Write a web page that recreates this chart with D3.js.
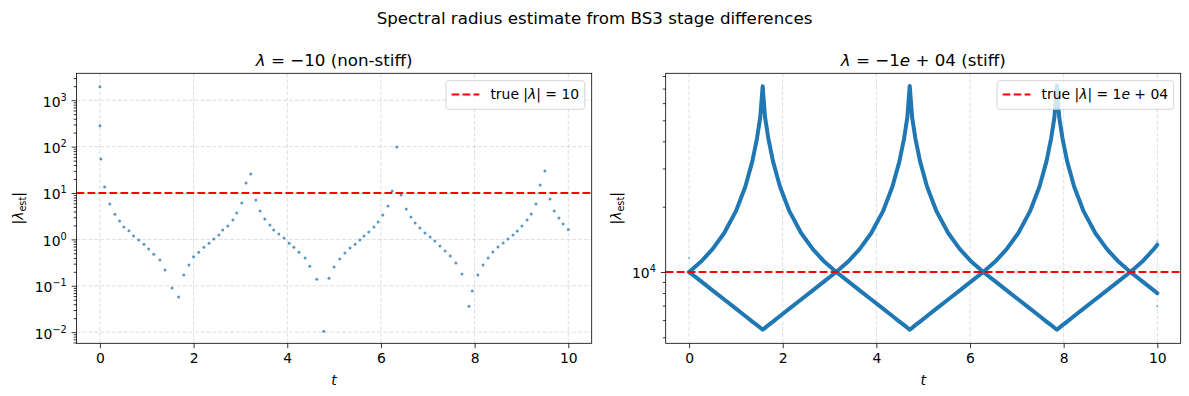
<!DOCTYPE html>
<html>
<head>
<meta charset="utf-8">
<script src="https://cdn.jsdelivr.net/npm/d3@7"></script>
<style>
  body { margin: 0; background: #fff; }
  svg { font-family: "DejaVu Sans", sans-serif; }
</style>
</head>
<body>
<svg id="drawing_region"></svg>
<script>
// lambda = -10 (non-stiff): step times and estimated |lambda|
const nsT = [0, 0, 0.02, 0.10, 0.21, 0.32, 0.42, 0.51, 0.62, 0.72,
  0.83, 0.94, 1.04, 1.15, 1.28, 1.39, 1.54, 1.68, 1.79, 1.90,
  2.00, 2.11, 2.22, 2.33, 2.43, 2.54, 2.62, 2.73, 2.84, 2.92,
  3.03, 3.12, 3.22, 3.33, 3.42, 3.52, 3.63, 3.71, 3.82, 3.93,
  4.04, 4.14, 4.25, 4.38, 4.48, 4.63, 4.78, 4.89, 5.00, 5.12,
  5.23, 5.34, 5.45, 5.55, 5.64, 5.74, 5.85, 5.94, 6.04, 6.15,
  6.24, 6.34, 6.43, 6.54, 6.64, 6.73, 6.83, 6.94, 7.05, 7.15,
  7.26, 7.37, 7.48, 7.60, 7.73, 7.88, 7.95, 8.07, 8.18, 8.29,
  8.39, 8.50, 8.61, 8.71, 8.82, 8.91, 9.01, 9.12, 9.21, 9.31,
  9.40, 9.50, 9.61, 9.70, 9.80, 9.89, 10.00];
const nsEst = [1950, 280, 54, 13.5, 5.8, 3.5, 2.5, 1.85, 1.54, 1.18,
  0.97, 0.79, 0.62, 0.48, 0.36, 0.22, 0.089, 0.057, 0.17, 0.28,
  0.42, 0.53, 0.68, 0.83, 1.02, 1.24, 1.59, 1.94, 2.61, 3.70,
  6.1, 16.4, 25.7, 7.1, 4.1, 2.75, 2.04, 1.59, 1.30, 1.07,
  0.83, 0.68, 0.53, 0.395, 0.265, 0.139, 0.0105, 0.146, 0.253, 0.377,
  0.507, 0.65, 0.79, 0.97, 1.18, 1.44, 1.85, 2.37, 3.35, 5.24,
  11.0, 98, 9.05, 4.52, 3.03, 2.25, 1.76, 1.37, 1.12, 0.92,
  0.72, 0.56, 0.436, 0.308, 0.179, 0.0364, 0.0767, 0.170, 0.279, 0.395,
  0.533, 0.684, 0.834, 1.02, 1.24, 1.51, 1.94, 2.61, 3.52, 5.80,
  14.9, 29.9, 7.43, 4.09, 2.88, 2.14, 1.64];

// lambda = -1e4 (stiff): the dense cloud of estimates, read as two branches
const stT = [0, 0.25, 0.5, 0.75, 1.0, 1.2, 1.35, 1.45, 1.52, 1.571,
  1.622, 1.692, 1.792, 1.942, 2.142, 2.392, 2.642, 2.892, 3.142,
  3.392, 3.642, 3.892, 4.142, 4.342, 4.492, 4.592, 4.662, 4.712,
  4.763, 4.833, 4.933, 5.083, 5.283, 5.533, 5.783, 6.033, 6.283,
  6.533, 6.783, 7.033, 7.283, 7.483, 7.633, 7.733, 7.803, 7.854,
  7.905, 7.975, 8.075, 8.225, 8.425, 8.675, 8.925, 9.175, 9.425,
  9.675, 9.925, 10.0];
const stBranchA = [10000, 11140, 12740, 15130, 19070, 24710, 32350, 41320, 51710, 71800,
  51710, 41320, 32350, 24710, 19070, 15130, 12740, 11140, 10000,
  9070, 8230, 7470, 6780, 6270, 5910, 5690, 5530, 5420,
  5530, 5690, 5910, 6270, 6780, 7470, 8230, 9070, 10000,
  11140, 12740, 15130, 19070, 24710, 32350, 41320, 51710, 72500,
  51710, 41320, 32350, 24710, 19070, 15130, 12740, 11140, 10000,
  9070, 8230, 7990];
const stBranchB = [10000, 9070, 8230, 7470, 6780, 6270, 5910, 5690, 5530, 5420,
  5530, 5690, 5910, 6270, 6780, 7470, 8230, 9070, 10000,
  11140, 12740, 15130, 19070, 24710, 32350, 41320, 51710, 72000,
  51710, 41320, 32350, 24710, 19070, 15130, 12740, 11140, 10000,
  9070, 8230, 7470, 6780, 6270, 5910, 5690, 5530, 5420,
  5530, 5690, 5910, 6270, 6780, 7470, 8230, 9070, 10000,
  11140, 12740, 13350];
const stStrayT = [0, 0, 10, 10];
const stStrayEst = [11600, 9800, 13800, 6950];

const trueNonStiff = 10;
const trueStiff = 1e4;
const xTicks = [0, 2, 4, 6, 8, 10];

const FS = 13.9;      // 10pt at 100 dpi
const FS_BIG = 16.7;  // 12pt
const BLUE = '#1f77b4';

const svg = d3.select('#drawing_region').attr('width', 1189).attr('height', 396);

svg.append('text')
  .attr('x', 594.5).attr('y', 24)
  .attr('text-anchor', 'middle')
  .attr('font-size', FS_BIG)
  .text('Spectral radius estimate from BS3 stage differences');

function rich(sel, parts) {
  parts.forEach(p => {
    const ts = sel.append('tspan').text(p.t);
    if (p.i) ts.attr('font-style', 'italic');
    if (p.size) ts.attr('font-size', p.size);
    if (p.dy) ts.attr('dy', p.dy);
  });
  return sel;
}

function sup(k) {
  return k < 0 ? '\u2212' + (-k) : String(k);
}

class LogPanel {

  constructor(config) {
    this.config = config;
    this.init();
  }

  init() {
    let self = this;
    const c = self.config;

    self.chart = svg.append('g')
      .attr('transform', `translate(${c.left}, ${c.top})`);

    self.xscale = d3.scaleLinear().domain([-0.5, 10.5]).range([0, c.width]);
    self.yscale = d3.scaleLog().domain(c.yDomain).range([c.height, 0]);

    self.chart.append('clipPath').attr('id', c.id + '-clip')
      .append('rect').attr('width', c.width).attr('height', c.height);

    self.gridLayer = self.chart.append('g');
    self.dataLayer = self.chart.append('g').attr('clip-path', `url(#${c.id}-clip)`);
    self.axisLayer = self.chart.append('g');
  }

  render() {
    let self = this;
    const c = self.config;
    const W = c.width, H = c.height;

    // grid
    self.gridLayer.selectAll('.gx').data(xTicks).join('line')
      .attr('x1', d => self.xscale(d)).attr('x2', d => self.xscale(d))
      .attr('y1', 0).attr('y2', H);
    self.gridLayer.selectAll('.gy').data(c.majors).join('line')
      .attr('x1', 0).attr('x2', W)
      .attr('y1', d => self.yscale(d)).attr('y2', d => self.yscale(d));
    self.gridLayer.selectAll('line')
      .attr('stroke', '#b0b0b0').attr('stroke-opacity', 0.5)
      .attr('stroke-width', 0.8).attr('stroke-dasharray', '4.1,1.8');

    c.drawData(self);

    // true |lambda| reference
    self.dataLayer.append('line')
      .attr('x1', 0).attr('x2', W)
      .attr('y1', self.yscale(c.trueValue)).attr('y2', self.yscale(c.trueValue))
      .attr('stroke', 'red').attr('stroke-width', 2.08)
      .attr('stroke-dasharray', '7.7,3.3');

    // axes
    const xAxis = self.axisLayer.append('g')
      .attr('transform', `translate(0, ${H})`)
      .call(d3.axisBottom(self.xscale).tickValues(xTicks)
        .tickSize(4.9).tickPadding(4.4).tickSizeOuter(0).tickFormat(d3.format('d')));

    const yMinor = self.axisLayer.append('g')
      .call(d3.axisLeft(self.yscale).tickValues(c.minors)
        .tickSize(2.8).tickSizeOuter(0).tickFormat(''));

    const yAxis = self.axisLayer.append('g')
      .call(d3.axisLeft(self.yscale).tickValues(c.majors)
        .tickSize(4.9).tickPadding(4.9).tickSizeOuter(0).tickFormat(''));

    [xAxis, yMinor, yAxis].forEach(a => {
      a.select('.domain').remove();
      a.selectAll('line').attr('stroke', '#000').attr('stroke-width', 0.8);
      a.attr('font-family', null).attr('font-size', FS);
    });
    xAxis.selectAll('text').attr('fill', '#000').attr('dy', '0.76em');

    yAxis.selectAll('.tick text')
      .attr('fill', '#000').attr('dy', '0.42em')
      .each(function(d) {
        const k = Math.round(Math.log10(d));
        rich(d3.select(this), [
          { t: '10' },
          { t: sup(k), size: FS * 0.7, dy: -FS * 0.42 }
        ]);
      });

    // spines
    self.axisLayer.append('rect')
      .attr('width', W).attr('height', H)
      .attr('fill', 'none').attr('stroke', '#000').attr('stroke-width', 0.8);

    // titles and labels
    rich(self.chart.append('text')
      .attr('x', W / 2).attr('y', -7.5)
      .attr('text-anchor', 'middle').attr('font-size', FS_BIG), c.title);

    self.chart.append('text')
      .attr('x', W / 2).attr('y', H + 41.5)
      .attr('text-anchor', 'middle').attr('font-size', FS)
      .attr('font-style', 'italic').text('t');

    rich(self.chart.append('text')
      .attr('transform', `translate(${c.ylabelX}, ${H / 2}) rotate(-90)`)
      .attr('text-anchor', 'middle').attr('font-size', FS), [
        { t: '|' },
        { t: '\u03bb', i: true },
        { t: 'est', size: FS * 0.7, dy: 2.8 },
        { t: '|', dy: -2.8 }
      ]);

    // legend
    const lg = self.chart.append('g');
    const box = lg.append('rect');
    const txt = rich(lg.append('text').attr('font-size', FS), c.legend);
    const tw = txt.node().getComputedTextLength();
    const bw = 5.6 + 27.8 + 11.1 + tw + 5.6;
    const bx = W - 7 - bw, by = 7.4, bh = 28.6;
    box.attr('x', bx).attr('y', by).attr('width', bw).attr('height', bh)
      .attr('rx', 2.8)
      .attr('fill', '#fff').attr('fill-opacity', 0.8)
      .attr('stroke', '#cccccc').attr('stroke-opacity', 0.8).attr('stroke-width', 1);
    lg.append('line')
      .attr('x1', bx + 5.6).attr('x2', bx + 5.6 + 27.8)
      .attr('y1', by + 13.8).attr('y2', by + 13.8)
      .attr('stroke', 'red').attr('stroke-width', 2.08)
      .attr('stroke-dasharray', '7.7,3.3');
    txt.attr('x', bx + 5.6 + 27.8 + 11.1).attr('y', by + 18.6);
  }
}

const left = new LogPanel({
  id: 'nonstiff',
  left: 76.5, top: 73.3, width: 515.2, height: 270,
  yDomain: [Math.pow(10, -2.24), Math.pow(10, 3.58)],
  majors: [1e-2, 1e-1, 1, 10, 100, 1000],
  minors: d3.range(-3, 4).flatMap(e => d3.range(2, 10).map(m => m * Math.pow(10, e)))
    .filter(v => v > Math.pow(10, -2.24) && v < Math.pow(10, 3.58)),
  trueValue: trueNonStiff,
  ylabelX: -53.5,
  title: [{ t: '\u03bb', i: true }, { t: ' = \u221210 (non-stiff)' }],
  legend: [{ t: 'true |' }, { t: '\u03bb', i: true }, { t: '| = 10' }],
  drawData: self => {
    self.dataLayer.selectAll('circle').data(nsT).join('circle')
      .attr('cx', d => self.xscale(d))
      .attr('cy', (d, i) => self.yscale(nsEst[i]))
      .attr('r', 1.5)
      .attr('fill', BLUE).attr('fill-opacity', 0.75);
  }
});
left.render();

const right = new LogPanel({
  id: 'stiff',
  left: 665.7, top: 73.3, width: 515, height: 270,
  yDomain: [Math.pow(10, 3.6714), Math.pow(10, 4.9157)],
  majors: [1e4],
  minors: [5e3, 6e3, 7e3, 8e3, 9e3, 2e4, 3e4, 4e4, 5e4, 6e4, 7e4, 8e4],
  trueValue: trueStiff,
  ylabelX: -45,
  title: [{ t: '\u03bb', i: true }, { t: ' = \u22121' }, { t: 'e', i: true }, { t: ' + 04 (stiff)' }],
  legend: [{ t: 'true |' }, { t: '\u03bb', i: true }, { t: '| = 1' }, { t: 'e', i: true }, { t: ' + 04' }],
  drawData: self => {
    const line = d3.line()
      .x(d => self.xscale(d[0]))
      .y(d => self.yscale(d[1]));
    [stBranchA, stBranchB].forEach(branch => {
      self.dataLayer.append('path')
        .datum(stT.map((t, i) => [t, branch[i]]))
        .attr('d', line)
        .attr('fill', 'none').attr('stroke', BLUE)
        .attr('stroke-width', 4).attr('stroke-linejoin', 'round')
        .attr('stroke-linecap', 'round');
    });
    self.dataLayer.selectAll('circle').data(stStrayT).join('circle')
      .attr('cx', d => self.xscale(d))
      .attr('cy', (d, i) => self.yscale(stStrayEst[i]))
      .attr('r', 1.1)
      .attr('fill', BLUE).attr('fill-opacity', 0.5);
  }
});
right.render();
</script>
</body>
</html>
